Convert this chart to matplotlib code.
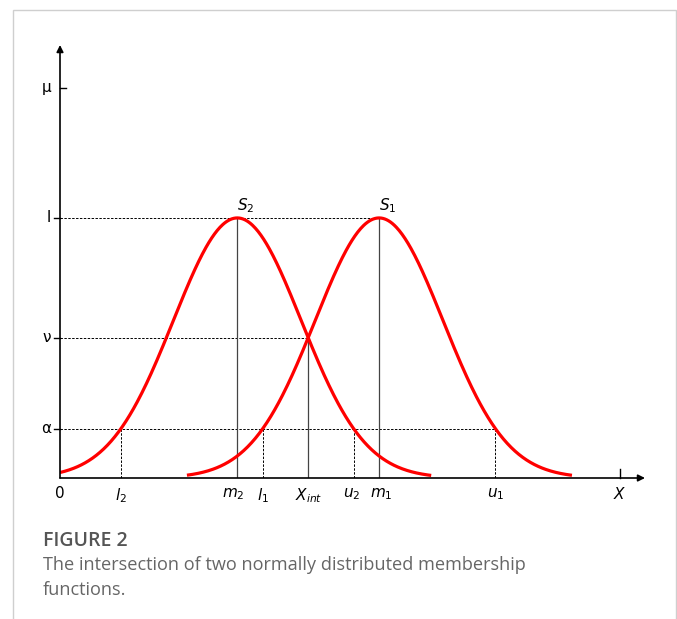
import numpy as np
import matplotlib
matplotlib.use('Agg')
import matplotlib.pyplot as plt
import matplotlib.patches as mpatches

plt.rcParams['mathtext.fontset'] = 'dejavusans'

# Membership function parameters (x in chart units, mu in [0, 1])
m2 = 5.0          # centre of S2
m1 = 9.0          # centre of S1
sigma = 1.8       # common spread
alpha = 0.19      # alpha-cut level
x_max = 16.5
x_label_pos = 15.8
mu_label = 1.5
s2_range = (0.0, 10.47)
s1_range = (3.58, 14.44)


def gauss(x, m):
    return np.exp(-(x - m) ** 2 / (2 * sigma ** 2))


# alpha-cut bounds and intersection point
half = sigma * np.sqrt(-2 * np.log(alpha))
l2, u2 = m2 - half, m2 + half
l1, u1 = m1 - half, m1 + half
x_int = (m1 + m2) / 2
nu = gauss(x_int, m1)

W, H = 677, 619
fig = plt.figure(figsize=(W / 100, H / 100), dpi=100)

# outer frame
fig.patches.append(mpatches.Rectangle((13 / W, -0.1), (W - 14) / W, 1.1 - 10 / H,
                                      transform=fig.transFigure, fill=False,
                                      edgecolor='#cfcfcf', linewidth=1.0))

ax = fig.add_axes([60 / W, (H - 478) / H, 585 / W, 433 / H])
ax.set_xlim(0, x_max)
ax.set_ylim(0, 1.665)
ax.axis('off')

# axes arrows
ax.annotate('', xy=(x_max, 0), xytext=(0, 0),
            arrowprops=dict(arrowstyle='-|>', color='black', lw=1.2,
                            mutation_scale=10, shrinkA=0, shrinkB=0),
            annotation_clip=False)
ax.annotate('', xy=(0, 1.665), xytext=(0, 0),
            arrowprops=dict(arrowstyle='-|>', color='black', lw=1.2,
                            mutation_scale=10, shrinkA=0, shrinkB=0,
                            facecolor='#1f4e79'),
            annotation_clip=False)

# y tick marks and labels
tk = dict(color='black', lw=1.0, clip_on=False)
ax.plot([0, 0.18], [mu_label, mu_label], **tk)
for lev in (1.0, nu, alpha):
    ax.plot([-0.18, 0], [lev, lev], **tk)
ax.plot([x_label_pos, x_label_pos], [0, 0.035], **tk)

ylab = dict(ha='right', va='center', fontsize=11, clip_on=False)
ax.text(-0.25, mu_label, 'μ', **ylab)
ax.text(-0.25, 1.0, 'l', **ylab)
ax.text(-0.25, nu, 'ν', **ylab)
ax.text(-0.25, alpha, 'α', **ylab)

# dashed guide lines
dash = dict(color='black', lw=0.7, linestyle=(0, (2.5, 1.5)))
ax.plot([0, m1], [1, 1], **dash)
ax.plot([0, x_int], [nu, nu], **dash)
ax.plot([0, u1], [alpha, alpha], **dash)
for xv in (l2, l1, u2, u1):
    ax.plot([xv, xv], [0, alpha], **dash)

# solid verticals
solid = dict(color='#444444', lw=0.9)
ax.plot([m2, m2], [0, 1], **solid)
ax.plot([m1, m1], [0, 1], **solid)
ax.plot([x_int, x_int], [0, nu], **solid)

# membership curves
xs2 = np.linspace(*s2_range, 400)
xs1 = np.linspace(*s1_range, 400)
ax.plot(xs2, gauss(xs2, m2), color='#ff0000', lw=2.3, solid_capstyle='butt')
ax.plot(xs1, gauss(xs1, m1), color='#ff0000', lw=2.3, solid_capstyle='butt')

ax.text(m2 + 0.25, 1.01, '$S_2$', ha='center', va='bottom', fontsize=11)
ax.text(m1 + 0.25, 1.01, '$S_1$', ha='center', va='bottom', fontsize=11)

# x labels
xl = dict(ha='center', va='top', fontsize=11, clip_on=False)
y_lab = -0.03
ax.text(0, y_lab, '0', **xl)
ax.text(l2, y_lab, '$l_2$', **xl)
ax.text(m2 - 0.1, y_lab, '$m_2$', **xl)
ax.text(l1, y_lab, '$l_1$', **xl)
ax.text(x_int, y_lab, '$X_{int}$', **xl)
ax.text(u2 - 0.05, y_lab, '$u_2$', **xl)
ax.text(m1 + 0.05, y_lab, '$m_1$', **xl)
ax.text(u1, y_lab, '$u_1$', **xl)
ax.text(x_label_pos, y_lab, '$X$', **xl)

# caption
fig.text(43 / W, 1 - 541 / H, 'FIGURE 2', family='Open Sans', fontsize=14,
         color='#555555', va='center', ha='left', weight='semibold')
fig.text(43 / W, 1 - 565 / H, 'The intersection of two normally distributed membership',
         family='Open Sans', fontsize=13.1, color='#666666', va='center', ha='left')
fig.text(43 / W, 1 - 590 / H, 'functions.', family='Open Sans', fontsize=13.1,
         color='#666666', va='center', ha='left')

fig.savefig('out.png', dpi=100)
plt.close(fig)
